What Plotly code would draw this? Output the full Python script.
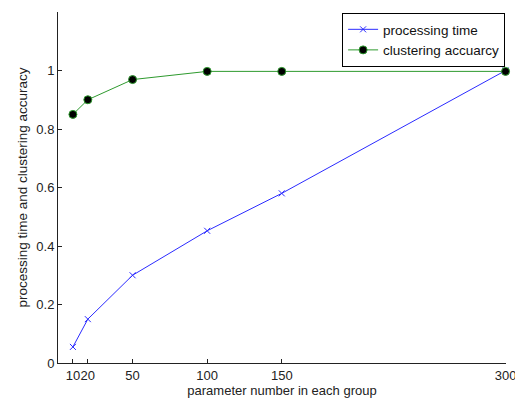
import plotly.graph_objects as go

x_vals = [10, 20, 50, 100, 150, 300]
processing_time = [0.055, 0.15, 0.30, 0.452, 0.58, 1.0]
clustering_acc = [0.85, 0.90, 0.969, 0.997, 0.997, 0.997]
x_ticks = [10, 20, 50, 100, 150, 300]
y_ticks = [0, 0.2, 0.4, 0.6, 0.8, 1]

font = "Liberation Sans, Arial, sans-serif"

fig = go.Figure()
fig.add_trace(go.Scatter(
    x=x_vals, y=processing_time, mode="lines+markers", name="processing time",
    line=dict(color="#2b2bff", width=1),
    marker=dict(symbol="x-thin", size=6, line=dict(color="#2b2bff", width=1)),
    cliponaxis=False,
))
fig.add_trace(go.Scatter(
    x=x_vals, y=clustering_acc, mode="lines+markers", name="clustering accuarcy",
    line=dict(color="#2e9a2e", width=1),
    marker=dict(symbol="circle", size=8, color="black", line=dict(color="#2e9a2e", width=1)),
    cliponaxis=False,
))

fig.update_layout(
    width=515, height=400,
    margin=dict(l=58, r=9, t=12, b=37),
    paper_bgcolor="white", plot_bgcolor="white",
    font=dict(family=font, size=13, color="#222"),
    showlegend=True,
    legend=dict(
        x=0.998, y=0.997, xanchor="right", yanchor="top",
        bgcolor="white", bordercolor="black", borderwidth=1,
        font=dict(family=font, size=13.5, color="#111"),
        tracegroupgap=0, itemwidth=30,
    ),
    xaxis=dict(
        range=[0, 300.3], tickvals=x_ticks, ticktext=[str(v) for v in x_ticks],
        tickangle=0, ticks="inside", ticklen=4, tickcolor="#222",
        ticklabeloverflow="allow",
        tickfont=dict(family=font, size=13, color="#222"),
        showline=True, linecolor="#222", linewidth=1, showgrid=False, zeroline=False,
        automargin=False,
        title=dict(text="parameter number in each group", standoff=3,
                   font=dict(family=font, size=13, color="#222")),
    ),
    yaxis=dict(
        range=[0, 1.2], tickvals=y_ticks, ticktext=["0", "0.2", "0.4", "0.6", "0.8", "1"],
        ticks="inside", ticklen=4, tickcolor="#222",
        tickfont=dict(family=font, size=13, color="#222"),
        showline=True, linecolor="#222", linewidth=1, showgrid=False, zeroline=False,
        automargin=False,
        title=dict(text="processing time and clustering accuracy", standoff=5,
                   font=dict(family=font, size=13.5, color="#222")),
    ),
)

fig.write_html("out.html")
